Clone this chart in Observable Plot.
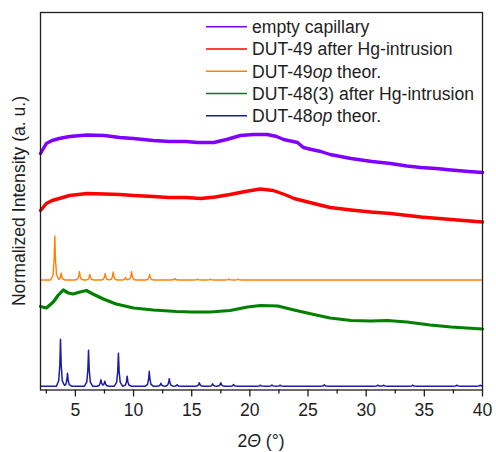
<!DOCTYPE html>
<html><head><meta charset="utf-8">
<script src="https://cdn.jsdelivr.net/npm/d3@7"></script>
<script src="https://cdn.jsdelivr.net/npm/@observablehq/plot@0.6"></script>
<style>
html,body{margin:0;padding:0;background:#fff;}
#chart svg{display:block;}
</style></head><body><div id="chart"></div>
<script>
// Legend entries (text between * is set in italics) and colours, top to bottom
const seriesNames = ["empty capillary", "DUT-49 after Hg-intrusion", "DUT-49*op* theor.", "DUT-48(3) after Hg-intrusion", "DUT-48*op* theor."];
const seriesColors = ["#8000ff", "#ff0000", "#ff8000", "#008000", "#1c1ca6"];

const xTicks = [5, 10, 15, 20, 25, 30, 35, 40];
const xMinorTicks = [2.5, 7.5, 12.5, 17.5, 22.5, 27.5, 32.5, 37.5];

// Measured patterns: [2θ (°), stacked normalized intensity]
const emptyCapillary = [[2.0,236.5],[2.5,246.5],[3.0,249.5],[3.6,251.5],[4.5,253.5],[6.0,255],[7.5,254.5],[8.8,252.5],[10.0,251.5],[11.7,249.5],[13.1,248.5],[14.5,248.5],[15.5,247.5],[16.9,247.5],[18.0,250.5],[19.2,254.5],[20.3,255.5],[21.5,255.5],[22.3,253.5],[22.9,250.5],[24.1,247.5],[24.6,242.5],[25.3,240.5],[26.1,238.5],[26.9,235.5],[28.7,231.5],[30.5,228.5],[32.1,226.5],[33.5,224],[34.7,222.5],[36.0,221.5],[37.3,220],[38.8,218.5],[40.0,217.5]];
const dut49Hg = [[2.0,179.5],[2.5,186.5],[3.0,189.5],[3.6,191.5],[4.5,194.5],[6.0,196.5],[7.5,196],[8.8,195.5],[10.0,194.5],[11.7,193.5],[13.0,192.5],[14.5,192.5],[15.8,191.5],[17.0,193],[18.3,195.5],[19.6,198.5],[20.9,201],[22.0,199.5],[23.0,195.5],[23.8,191.5],[25.5,186.5],[26.9,182.5],[28.7,180],[30.4,178],[32.1,176.5],[34.7,173],[37.3,170.5],[40.0,168]];
const dut48Hg = [[2.0,83.5],[2.5,82],[3.1,88],[3.5,94.5],[3.95,100],[4.4,97],[4.8,96],[5.4,98],[5.95,99.5],[6.5,96],[7.4,91],[8.5,86],[10.0,82],[11.7,80],[13.7,78.5],[15.0,78],[16.6,78],[18.3,79.5],[19.8,83],[20.9,84.5],[22.4,84],[23.8,80],[25.5,75.5],[26.9,72],[28.7,69.5],[30.4,69],[31.8,69.5],[33.5,68],[35.5,65],[37.3,63],[40.0,61]];

// Simulated patterns: reflections [2θ (°), height] above a stacked baseline
const dut49opBase = 110;
const dut49opPeaks = [[3.23,44],[3.78,7],[5.35,8.5],[6.24,5.5],[7.56,6.5],[8.25,8],[9.3,2.5],[9.83,8.5],[11.38,5.5],[13.55,1.5],[15.5,0.8],[16.6,0.8],[18.2,1],[19.0,0.8]];
const dut48opBase = 3.8;
const dut48opPeaks = [[3.72,47],[4.32,13],[6.13,36],[7.19,6.5],[7.53,5],[8.7,33],[9.45,10],[11.35,15],[12.35,3],[13.07,7.5],[13.75,1.5],[15.65,3.5],[16.8,2.3],[17.5,3.5],[18.6,1.7],[20.9,1],[21.9,1.2],[22.6,1],[26.4,1.5],[31.0,1],[31.5,1],[34.0,1],[37.8,1],[39.8,1]];

// Line shape of one reflection: [offset in 2θ, fraction of height]
const peakProfile = [[-0.35,0],[-0.15,0.12],[-0.06,0.45],[0,1],[0.06,0.45],[0.15,0.12],[0.35,0]];

function profileAt(d) {
  if (d <= peakProfile[0][0] || d >= peakProfile[peakProfile.length - 1][0]) return 0;
  for (let i = 1; i < peakProfile.length; i++) {
    const [x0, y0] = peakProfile[i - 1], [x1, y1] = peakProfile[i];
    if (d <= x1) return y0 + (y1 - y0) * (d - x0) / (x1 - x0);
  }
  return 0;
}

function stickPattern(base, peaks) {
  const xs = new Set([2, 40]);
  for (const [p] of peaks) for (const [dx] of peakProfile) {
    const x = +(p + dx).toFixed(4);
    if (x >= 2 && x <= 40) xs.add(x);
  }
  return [...xs].sort((a, b) => a - b).map(x => [x, base + d3.sum(peaks, ([p, h]) => h * profileAt(x - p))]);
}

const dut49op = stickPattern(dut49opBase, dut49opPeaks);
const dut48op = stickPattern(dut48opBase, dut48opPeaks);

const patterns = [emptyCapillary, dut49Hg, dut49op, dut48Hg, dut48op];
const strokeWidths = [3.4, 3.4, 1.4, 3.2, 1.5];

const font = "'Liberation Sans', Arial, sans-serif";
const ink = "#1e1e1e";
const fontSize = 17.6;

const chart = Plot.plot({
  width: 496,
  height: 452,
  marginLeft: 40,
  marginRight: 14,
  marginTop: 12,
  marginBottom: 62.5,
  style: {fontFamily: font, fontSize: fontSize + "px", color: ink, background: "#fff"},
  x: {domain: [2, 40]},
  y: {domain: [0, 377.5], axis: null},
  marks: [
    ...patterns.map((data, i) => Plot.line(data, {x: d => d[0], y: d => d[1], stroke: seriesColors[i], strokeWidth: strokeWidths[i], strokeLinejoin: "round"})),
    Plot.axisX({ticks: xMinorTicks, tickSize: 4, text: null, strokeWidth: 1.3, label: null}),
    Plot.axisX({ticks: xTicks, tickSize: 7, tickPadding: 6, strokeWidth: 1.3, label: null}),
    Plot.frame({stroke: ink, strokeWidth: 1.3})
  ]
});

document.getElementById("chart").appendChild(chart);

const svg = d3.select(chart);

// Tick labels at the same size as the titles
svg.selectAll("g[aria-label='x-axis tick label']").attr("font-size", fontSize).attr("fill", ink);

// Axis titles
const xTitle = svg.append("text")
  .attr("x", 261).attr("y", 446.5)
  .attr("text-anchor", "middle")
  .attr("font-family", font).attr("font-size", fontSize).attr("fill", ink);
xTitle.append("tspan").text("2");
xTitle.append("tspan").attr("font-style", "italic").text("Θ");
xTitle.append("tspan").text(" (°)");

svg.append("text")
  .attr("transform", "translate(25,201) rotate(-90)")
  .attr("text-anchor", "middle")
  .attr("font-family", font).attr("font-size", fontSize).attr("fill", ink)
  .text("Normalized Intensity (a. u.)");

// Legend inside the frame, top right
const legend = svg.append("g")
  .attr("font-family", font).attr("font-size", fontSize).attr("fill", ink)
  .attr("text-anchor", "start");
seriesNames.forEach((name, i) => {
  const y = 26.7 + i * 22.25;
  legend.append("line")
    .attr("x1", 206).attr("x2", 247).attr("y1", y).attr("y2", y)
    .attr("stroke", seriesColors[i]).attr("stroke-width", 1.6);
  const t = legend.append("text").attr("x", 252).attr("y", y + 6.5);
  name.split("*").forEach((part, j) => {
    if (part) t.append("tspan").attr("font-style", j % 2 ? "italic" : null).text(part);
  });
});
</script>
</body></html>
